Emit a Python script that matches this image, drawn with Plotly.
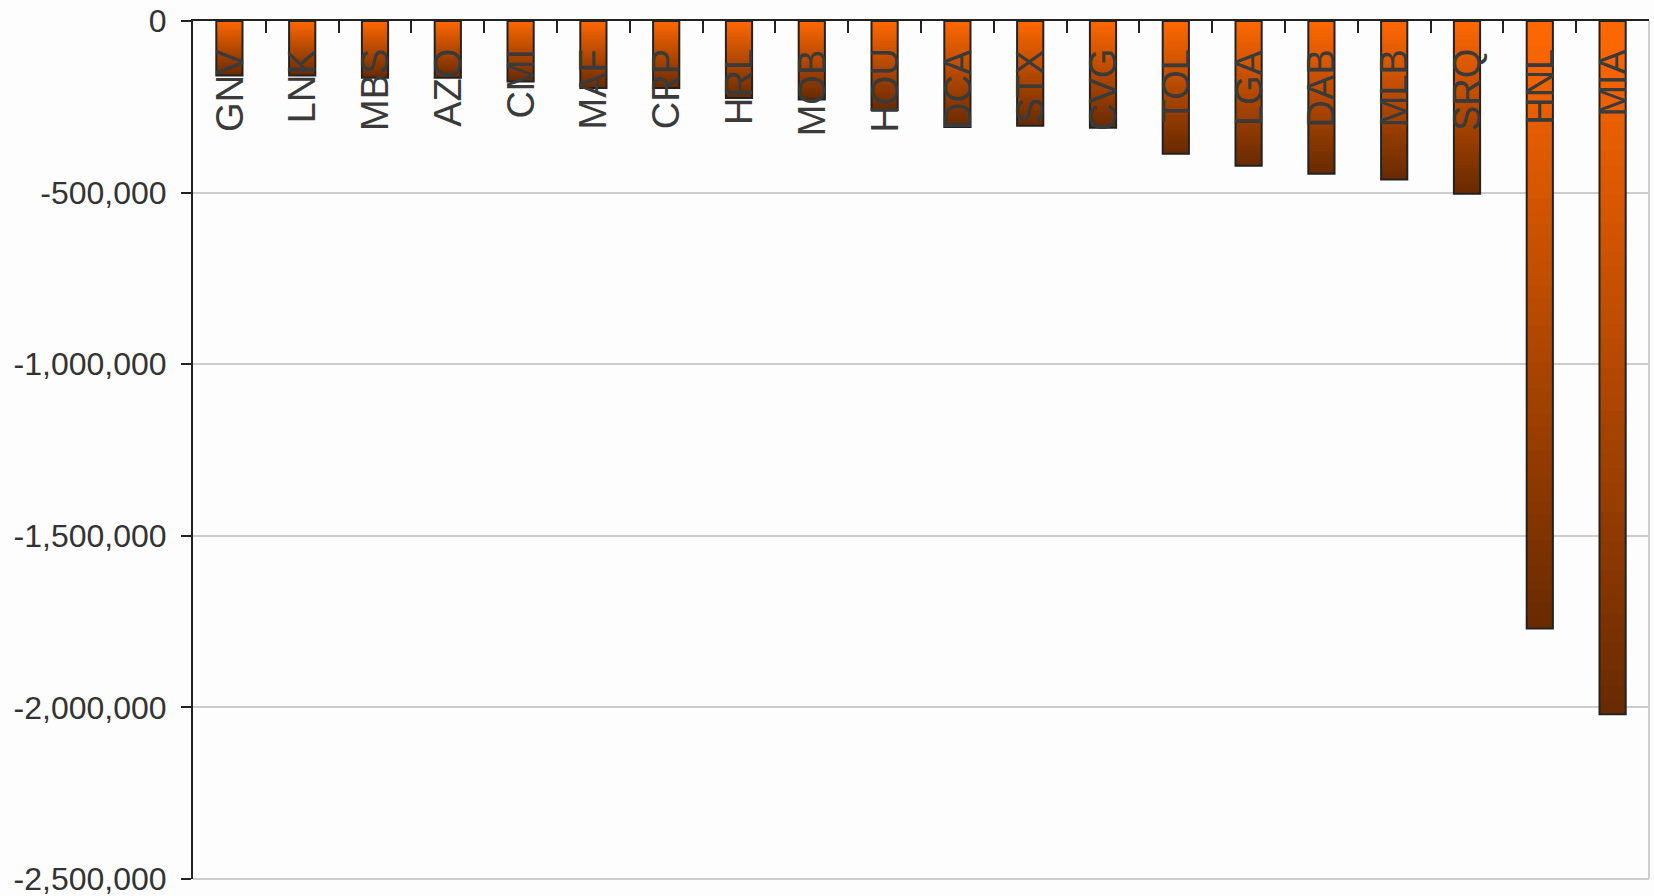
import plotly.graph_objects as go

# Airports and their (negative) totals
airports = ["GNV", "LNK", "MBS", "AZO", "CMI", "MAF", "CRP", "HRL", "MOB", "HOU",
            "DCA", "STX", "CVG", "TOL", "LGA", "DAB", "MLB", "SRQ", "HNL", "MIA"]
values = [-159000, -159000, -165000, -165000, -176000, -195000, -195000, -224000,
          -229000, -259000, -309000, -305000, -311000, -387000, -422000, -445000,
          -462000, -503000, -1770000, -2020000]

y_ticks = [0, -500000, -1000000, -1500000, -2000000, -2500000]
y_tick_text = ["0", "-500,000", "-1,000,000", "-1,500,000", "-2,000,000", "-2,500,000"]

# vertical gradient: bright orange at the top of each bar, dark brown at its end
TOP = (255, 104, 0)
BOTTOM = (104, 42, 0)
N_SLICES = 48


def mix(t):
    r = round(TOP[0] + (BOTTOM[0] - TOP[0]) * t)
    g = round(TOP[1] + (BOTTOM[1] - TOP[1]) * t)
    b = round(TOP[2] + (BOTTOM[2] - TOP[2]) * t)
    return f"rgb({r},{g},{b})"


fig = go.Figure()

# each slice runs from its own start to the end of the bar; later slices
# are painted over earlier ones, so the fill has no seams
for k in range(N_SLICES):
    fig.add_trace(go.Bar(
        x=airports,
        y=[v * (1 - k / N_SLICES) for v in values],
        base=[v * k / N_SLICES for v in values],
        marker=dict(color=mix((k + 0.5) / N_SLICES), line=dict(width=0)),
        showlegend=False,
        hoverinfo="skip",
    ))

# outline of each bar
fig.add_trace(go.Bar(
    x=airports,
    y=values,
    marker=dict(color="rgba(0,0,0,0)", line=dict(color="#222222", width=2)),
    showlegend=False,
))

# rotated category labels hanging just under the zero line
for name in airports:
    fig.add_annotation(
        x=name, y=0, xref="x", yref="y",
        text=name, textangle=-90,
        showarrow=False, yanchor="top", xanchor="center",
        yshift=-26,
        font=dict(family="Liberation Sans, Arial, sans-serif", size=38, color="#3a3a3a"),
    )

# light frame on the right-hand side and bottom of the plot area
fig.add_shape(type="line", xref="paper", yref="paper", x0=1, x1=1, y0=0, y1=1,
              line=dict(color="#cfcfcf", width=2), layer="below")
fig.add_shape(type="line", xref="paper", yref="paper", x0=0, x1=1, y0=0, y1=0,
              line=dict(color="#cccccc", width=2), layer="below")

fig.update_layout(
    width=1654, height=896,
    margin=dict(l=193, r=5, t=21, b=17),
    paper_bgcolor="#fdfdfd",
    plot_bgcolor="#fdfdfd",
    barmode="overlay",
    bargap=0.64,
    font=dict(family="Liberation Sans, Arial, sans-serif", color="#333333"),
    xaxis=dict(
        type="category",
        side="top",
        showticklabels=False,
        ticks="inside",
        ticklen=12,
        tickwidth=2,
        tickcolor="#222222",
        tickson="boundaries",
        showgrid=False,
        showline=True,
        linecolor="#222222",
        linewidth=2,
        automargin=False,
        range=[-0.5, len(airports) - 0.5],
    ),
    yaxis=dict(
        range=[-2500000, 0],
        tickvals=y_ticks,
        ticktext=y_tick_text,
        ticks="outside",
        ticklen=10,
        tickwidth=2,
        tickcolor="#222222",
        ticklabelstandoff=8,
        ticklabeloverflow="allow",
        tickfont=dict(size=32, color="#333333"),
        showgrid=True,
        gridcolor="#cccccc",
        gridwidth=2,
        zeroline=False,
        showline=True,
        linecolor="#222222",
        linewidth=2,
        automargin=False,
    ),
)

fig.write_html("out.html")
